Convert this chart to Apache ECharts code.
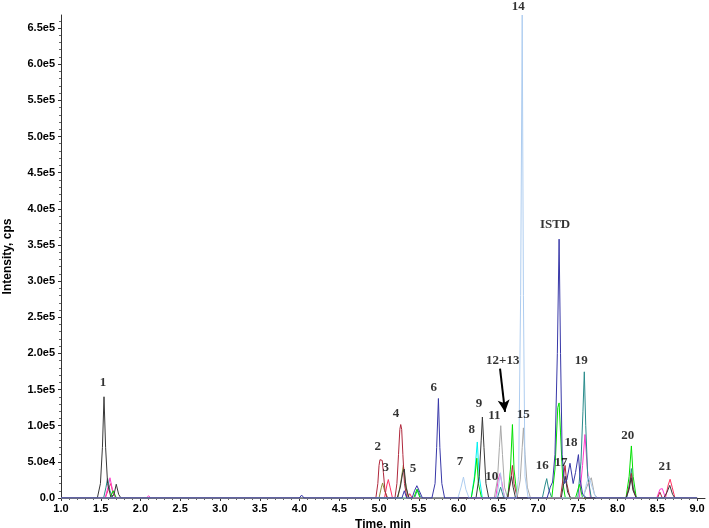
<!DOCTYPE html>
<html>
<head>
<meta charset="utf-8">
<script src="https://cdn.jsdelivr.net/npm/echarts@6/dist/echarts.min.js"></script>
<style>html,body{margin:0;padding:0;background:#fff}#c{width:709px;height:528px}</style>
</head>
<body>
<div id="c"></div>
<script>
// ---- tick labels ----
const xTicks = [1.0,1.5,2.0,2.5,3.0,3.5,4.0,4.5,5.0,5.5,6.0,6.5,7.0,7.5,8.0,8.5,9.0];
const yTicks = [0,50000,100000,150000,200000,250000,300000,350000,400000,450000,500000,550000,600000,650000];

// ---- traces (time min, intensity cps) ----
const traceDarkGray = [[1.0,0],[1.457,0],[1.496,20000],[1.521,70000],[1.541,140000],[1.561,70000],[1.586,20000],[1.625,2000],[1.665,4000],[1.695,19000],[1.725,5000],[1.754,0],
 [5.228,0],[5.268,15000],[5.298,35000],[5.318,40000],[5.338,15000],[5.378,0],
 [6.22,0],[6.26,30000],[6.285,80000],[6.30,112000],[6.32,70000],[6.345,20000],[6.38,0],
 [6.617,0],[6.647,20000],[6.667,30000],[6.687,15000],[6.717,0],
 [7.292,0],[7.322,20000],[7.342,30000],[7.372,8000],[7.412,0],
 [8.106,0],[8.146,12000],[8.171,28000],[8.196,10000],[8.236,0],
 [8.582,0],[8.622,8000],[8.657,17500],[8.692,5000],[8.722,0],[9.0,0]];
const traceLightGray = [[1.0,0],[6.449,0],[6.489,25000],[6.514,70000],[6.531,100000],[6.553,60000],[6.578,15000],[6.618,0],
 [6.736,0],[6.776,25000],[6.801,70000],[6.816,97000],[6.836,60000],[6.865,15000],[6.905,0],
 [7.56,0],[7.63,20000],[7.67,28000],[7.709,5000],[7.749,0],[9.0,0]];
const traceLightBlue = [[1.0,0],[5.992,0],[6.032,15000],[6.062,29000],[6.092,12000],[6.132,0],
 [6.478,0],[6.508,20000],[6.528,35000],[6.548,15000],[6.588,0],
 [6.726,0],[6.756,30000],[6.781,280000],[6.801,668000],[6.816,280000],[6.836,30000],[6.876,0],
 [7.57,0],[7.61,20000],[7.64,30000],[7.68,15000],[7.73,0],[9.0,0]];
const traceNavy = [[1.0,0],[3.997,0],[4.027,4000],[4.057,0],[5.288,0],[5.318,10000],[5.348,0],
 [5.416,0],[5.446,10000],[5.476,17000],[5.506,10000],[5.546,0],
 [5.665,0],[5.705,20000],[5.725,70000],[5.747,137600],[5.765,70000],[5.79,20000],[5.825,0],
 [7.114,0],[7.154,15000],[7.183,22000],[7.213,60000],[7.243,200000],[7.265,358000],[7.283,200000],[7.303,60000],[7.333,20000],
 [7.362,25000],[7.402,48000],[7.442,20000],[7.471,35000],[7.508,60000],[7.531,25000],[7.561,5000],[7.61,0],[9.0,0]];
const traceDarkRed = [[1.0,0],[4.96,0],[4.985,20000],[5.0,45000],[5.012,53000],[5.026,54500],[5.04,52000],[5.055,35000],[5.075,10000],[5.10,0],
 [5.20,0],[5.225,20000],[5.245,60000],[5.262,95000],[5.273,101600],[5.285,95000],[5.30,60000],[5.32,20000],[5.35,0],
 [6.618,0],[6.658,25000],[6.678,45000],[6.698,20000],[6.738,0],
 [7.282,0],[7.312,25000],[7.34,45000],[7.362,20000],[7.402,0],
 [8.106,0],[8.146,15000],[8.174,34000],[8.196,12000],[8.236,0],
 [8.503,0],[8.533,8000],[8.563,0],[9.0,0]];
const traceRed = [[1.0,0],[1.556,0],[1.596,12000],[1.626,20000],[1.656,6000],[1.696,0],
 [5.069,0],[5.099,18000],[5.117,25500],[5.139,15000],[5.169,0],[5.357,0],[5.387,6000],[5.417,0],
 [8.602,0],[8.637,18000],[8.661,25900],[8.687,15000],[8.722,0],[9.0,0]];
const traceGreen = [[1.0,0],[1.616,0],[1.656,10000],[1.696,0],[5.436,0],[5.476,12000],[5.516,0],
 [6.16,0],[6.2,25000],[6.23,55000],[6.25,20000],[6.29,0],
 [6.618,0],[6.653,40000],[6.678,101600],[6.698,40000],[6.738,0],
 [7.173,0],[7.213,40000],[7.248,125000],[7.265,131500],[7.283,90000],[7.313,20000],[7.343,0],
 [7.471,0],[7.521,19000],[7.561,0],
 [8.106,0],[8.146,30000],[8.174,72000],[8.196,30000],[8.236,0],[9.0,0]];
const traceTeal = [[1.0,0],[1.536,0],[1.566,15000],[1.586,27000],[1.616,10000],[1.656,0],
 [5.446,0],[5.486,12000],[5.526,0],[6.489,0],[6.529,15000],[6.569,0],
 [7.054,0],[7.089,18000],[7.109,26800],[7.134,12000],[7.174,0],
 [7.5,0],[7.54,50000],[7.565,120000],[7.582,174500],[7.6,100000],[7.625,30000],[7.67,0],
 [8.116,0],[8.151,20000],[8.174,40700],[8.196,15000],[8.236,0],[9.0,0]];
const traceMagenta = [[1.0,0],[1.556,0],[1.591,15000],[1.616,28000],[1.646,12000],[1.686,0],[2.072,0],[2.102,3000],[2.132,0],
 [6.468,0],[6.498,25000],[6.522,33800],[6.548,20000],[6.578,0],
 [7.52,0],[7.56,45000],[7.59,87800],[7.62,40000],[7.66,0],
 [8.493,0],[8.533,12000],[8.563,13000],[8.603,0],[9.0,0]];
const traceCyan = [[1.0,0],[6.16,0],[6.2,30000],[6.236,77500],[6.26,30000],[6.3,0],[9.0,0]];
const traceOlive = [[1.0,0],[5.0,0],[5.03,15000],[5.045,20800],[5.07,10000],[5.11,0],
 [5.238,0],[5.278,25000],[5.306,45300],[5.328,25000],[5.368,0],[9.0,0]];

// ---- peak labels ----
const peakNames = ['1','2','3','4','5','6','7','8','9','10','11','12+13','14','15','ISTD','16','17','18','19','20','21'];
const peakTimes = [1.528,4.984,5.084,5.214,5.428,5.688,6.019,6.166,6.258,6.418,6.450,6.556,6.752,6.815,7.214,7.054,7.289,7.415,7.545,8.128,8.597];
const peakLabelY = [159200,70600,41500,116900,40700,152800,50800,94700,130700,30000,113500,189300,679000,115500,377600,45300,49000,76700,189700,86800,42900];
const arrowFrom = [6.522,179000];
const arrowTo = [6.585,119000];

const traces = [
  ['olive', traceOlive, '#8c8c3c'],
  ['cyan', traceCyan, '#00f0f0'],
  ['red', traceRed, '#ff3060'],
  ['magenta', traceMagenta, '#ff3ccc'],
  ['teal', traceTeal, '#2a8c8c'],
  ['green', traceGreen, '#00e000'],
  ['lightgray', traceLightGray, '#a8a8a8'],
  ['darkred', traceDarkRed, '#b0283c'],
  ['darkgray', traceDarkGray, '#383838'],
  ['lightblue', traceLightBlue, '#aecdf0'],
  ['navy', traceNavy, '#3838a8']
];

function fmtY(v){
  if (v === 0) return '0.0';
  const e = Math.floor(Math.log10(v) + 1e-9);
  return (v/Math.pow(10,e)).toFixed(1) + 'e' + e;
}

const series = traces.map(t => ({
  name: t[0], type: 'line', data: t[1], showSymbol: false, symbol: 'none',
  lineStyle: {width: 1, color: t[2]}, itemStyle: {color: t[2]}, z: 2, silent: true
}));

series.push({
  type: 'scatter', clip: false, z: 10, symbol: 'circle', symbolSize: 1,
  itemStyle: {color: 'rgba(0,0,0,0)'},
  data: peakNames.map((n,i) => [peakTimes[i], peakLabelY[i], n]),
  label: {show: true, position: 'inside', formatter: p => p.value[2],
    fontFamily: 'Liberation Serif, Times New Roman, serif', fontWeight: 'bold', fontSize: 13, color: '#000'},
  markLine: {
    silent: true, symbol: ['none','arrow'], symbolSize: [9, 12],
    lineStyle: {color: '#000', width: 2, type: 'solid'},
    label: {show: false},
    data: [[{coord: arrowFrom}, {coord: arrowTo}]]
  }
});

const chart = echarts.init(document.getElementById('c'));
chart.setOption({
  animation: false,
  backgroundColor: '#fff',
  grid: {left: 61, right: 4, top: 15, bottom: 30, containLabel: false, outerBoundsMode: 'none'},
  xAxis: {
    type: 'value', min: 1.0, max: 9.1, interval: 0.5,
    name: 'Time, min', nameLocation: 'middle', nameGap: 13,
    nameTextStyle: {fontFamily: 'Liberation Sans, Arial', fontWeight: 'bold', fontSize: 12, color: '#000'},
    axisLine: {lineStyle: {color: '#333', width: 1}},
    axisTick: {show: true, length: 3, customValues: xTicks, lineStyle: {color: '#333'}},
    minorTick: {show: true, splitNumber: 5, length: 2, lineStyle: {color: '#666'}},
    axisLabel: {customValues: xTicks, margin: 5, formatter: v => v.toFixed(1),
      fontFamily: 'Liberation Sans, Arial', fontWeight: 'bold', fontSize: 11, color: '#000'},
    splitLine: {show: false}
  },
  yAxis: {
    type: 'value', min: 0, max: 668000, interval: 50000,
    name: 'Intensity, cps', nameLocation: 'middle', nameGap: 47, nameRotate: 90,
    nameTextStyle: {fontFamily: 'Liberation Sans, Arial', fontWeight: 'bold', fontSize: 12, color: '#000'},
    axisLine: {show: true, lineStyle: {color: '#333', width: 1}},
    axisTick: {show: true, length: 3, customValues: yTicks, lineStyle: {color: '#333'}},
    minorTick: {show: true, splitNumber: 5, length: 2, lineStyle: {color: '#666'}},
    axisLabel: {customValues: yTicks, margin: 6, formatter: fmtY,
      fontFamily: 'Liberation Sans, Arial', fontWeight: 'bold', fontSize: 11, color: '#000'},
    splitLine: {show: false}
  },
  series: series
});
</script>
</body>
</html>
